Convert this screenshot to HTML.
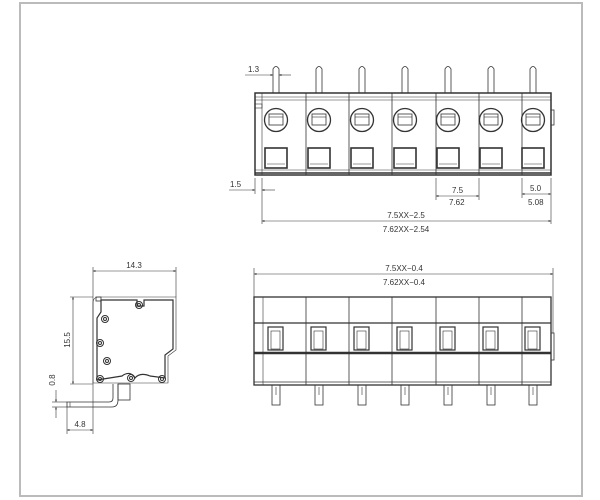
<!DOCTYPE html>
<html><head><meta charset="utf-8"><style>
html,body{margin:0;padding:0;background:#fff;width:600px;height:500px;overflow:hidden}
svg{display:block}
text{font-family:"Liberation Sans",sans-serif;font-size:8px;fill:#333}
</style></head><body>
<svg width="600" height="500" viewBox="0 0 600 500" xmlns="http://www.w3.org/2000/svg">
<defs>
<marker id="a" viewBox="0 0 10 10" refX="10" refY="5" markerWidth="5" markerHeight="4" orient="auto-start-reverse"><path d="M0,1 L10,5 L0,9z" fill="#333"/></marker>
</defs>
<rect x="20" y="3" width="562" height="493" fill="none" stroke="#bbb" stroke-width="2"/>
<g stroke="#333" fill="none" stroke-width="1">
<!-- TOP VIEW -->
<rect x="255" y="93" width="296" height="82" stroke-width="1.5"/>
<line x1="255" y1="97" x2="551" y2="97" stroke-width="0.6"/>
<line x1="255" y1="100" x2="551" y2="100" stroke-width="0.6"/>
<line x1="255" y1="170" x2="551" y2="170" stroke-width="0.6"/>
<line x1="255" y1="173" x2="551" y2="173" stroke-width="1.5"/>
<line x1="262" y1="93" x2="262" y2="175" stroke-width="0.6"/>
<rect x="255" y="104" width="7" height="4" stroke-width="0.6"/>
<rect x="551" y="110" width="3" height="15" stroke-width="0.8"/>
<g stroke-width="0.8">
<line x1="306" y1="93" x2="306" y2="175"/><line x1="349" y1="93" x2="349" y2="175"/>
<line x1="392" y1="93" x2="392" y2="175"/><line x1="436" y1="93" x2="436" y2="175"/>
<line x1="479" y1="93" x2="479" y2="175"/><line x1="522" y1="93" x2="522" y2="175"/>
</g>
<g id="cellT">
<path d="M273,93 V69 Q276,64 279,69 V93" stroke-width="0.8"/>
<circle cx="276" cy="120" r="11.5" stroke-width="1.3"/>
<rect x="269" y="114" width="14" height="11" stroke-width="0.8"/>
<line x1="269" y1="117" x2="283" y2="117" stroke-width="0.6"/>
<rect x="265" y="148" width="22" height="20" stroke-width="1.6"/>
<line x1="267" y1="164" x2="285" y2="164" stroke-width="0.6"/>
</g>
<use href="#cellT" x="43"/><use href="#cellT" x="86"/><use href="#cellT" x="129"/>
<use href="#cellT" x="172"/><use href="#cellT" x="215"/><use href="#cellT" x="257"/>
<!-- top dims -->
<g stroke-width="0.6">
<line x1="245" y1="75" x2="273" y2="75" marker-end="url(#a)"/>
<line x1="291" y1="75" x2="279" y2="75" marker-end="url(#a)"/>
<line x1="229" y1="190" x2="255" y2="190" marker-end="url(#a)"/>
<line x1="275" y1="190" x2="262" y2="190" marker-end="url(#a)"/>
<line x1="255" y1="178" x2="255" y2="194"/>
<line x1="262" y1="178" x2="262" y2="224"/>
<line x1="436" y1="178" x2="436" y2="200"/><line x1="479" y1="178" x2="479" y2="200"/>
<line x1="436" y1="196" x2="479" y2="196" marker-start="url(#a)" marker-end="url(#a)"/>
<line x1="522" y1="178" x2="522" y2="198"/><line x1="551" y1="178" x2="551" y2="224"/>
<line x1="522" y1="194" x2="551" y2="194" marker-start="url(#a)" marker-end="url(#a)"/>
<line x1="262" y1="221" x2="551" y2="221" marker-start="url(#a)" marker-end="url(#a)"/>
</g>
<!-- FRONT VIEW -->
<rect x="254" y="297" width="297" height="88" stroke-width="1.3"/>
<line x1="254" y1="323" x2="551" y2="323" stroke-width="1.3"/>
<line x1="254" y1="353" x2="551" y2="353" stroke-width="2.5"/>
<line x1="254" y1="382" x2="551" y2="382" stroke-width="0.8"/>
<line x1="263" y1="297" x2="263" y2="385" stroke-width="0.6"/>
<rect x="551" y="333" width="3" height="27" stroke-width="0.8"/>
<g stroke-width="0.8">
<line x1="306" y1="297" x2="306" y2="385"/><line x1="349" y1="297" x2="349" y2="385"/>
<line x1="392" y1="297" x2="392" y2="385"/><line x1="436" y1="297" x2="436" y2="385"/>
<line x1="479" y1="297" x2="479" y2="385"/><line x1="522" y1="297" x2="522" y2="385"/>
</g>
<g id="cellF">
<rect x="268" y="327" width="15" height="23" stroke-width="1.2"/>
<rect x="271" y="331" width="9" height="18" stroke-width="0.6"/>
<rect x="272" y="385" width="8" height="20" stroke-width="0.8"/>
<line x1="276" y1="387" x2="276" y2="395" stroke-width="0.6"/>
</g>
<use href="#cellF" x="43"/><use href="#cellF" x="86"/><use href="#cellF" x="129"/>
<use href="#cellF" x="172"/><use href="#cellF" x="215"/><use href="#cellF" x="257"/>
<g stroke-width="0.6">
<line x1="254" y1="268" x2="254" y2="297"/><line x1="553" y1="268" x2="553" y2="333"/>
<line x1="254" y1="274" x2="553" y2="274" marker-start="url(#a)" marker-end="url(#a)"/>
</g>
<!-- SIDE VIEW -->
<path d="M93,383 V303 Q93,297 99,297 H176 V350 L168,356 V383 Z" stroke-width="0.6"/>
<path d="M97,380 V318 L101,312 V300 H137 V306 H144 V300 H173 V349 L165,355 V378 L150,376 Q140,372 135,378 Q130,370 122,376 L97,380" stroke-width="1.2"/>
<rect x="96" y="297" width="5" height="4" stroke-width="0.8"/>
<g stroke-width="1">
<circle cx="139" cy="305" r="3.5"/><circle cx="139" cy="305" r="1.5"/>
<circle cx="105" cy="319" r="3.5"/><circle cx="105" cy="319" r="1.5"/>
<circle cx="100" cy="343" r="3.5"/><circle cx="100" cy="343" r="1.5"/>
<circle cx="107" cy="361" r="3.5"/><circle cx="107" cy="361" r="1.5"/>
<circle cx="100" cy="379" r="3.5"/><circle cx="100" cy="379" r="1.5"/>
<circle cx="131" cy="378" r="3.5"/><circle cx="131" cy="378" r="1.5"/>
<circle cx="162" cy="379" r="3.5"/><circle cx="162" cy="379" r="1.5"/>
</g>
<path d="M113,384 V398 Q113,402 109,402 H67 V407 H112 Q118,407 118,400 V384" stroke-width="0.8"/>
<rect x="118" y="384" width="12" height="16" stroke-width="0.8"/>
<line x1="70" y1="402" x2="70" y2="407" stroke-width="0.6"/>
<g stroke-width="0.6">
<line x1="93" y1="267" x2="93" y2="434"/><line x1="176" y1="267" x2="176" y2="297"/>
<line x1="93" y1="271" x2="176" y2="271" marker-start="url(#a)" marker-end="url(#a)"/>
<line x1="70" y1="297" x2="93" y2="297"/><line x1="70" y1="384" x2="93" y2="384"/>
<line x1="73" y1="297" x2="73" y2="384" marker-start="url(#a)" marker-end="url(#a)"/>
<line x1="52" y1="402" x2="67" y2="402"/><line x1="52" y1="407" x2="67" y2="407"/>
<line x1="56" y1="390" x2="56" y2="402" marker-end="url(#a)"/>
<line x1="56" y1="418" x2="56" y2="407" marker-end="url(#a)"/>
<line x1="67" y1="407" x2="67" y2="434"/>
<line x1="67" y1="430" x2="93" y2="430" marker-start="url(#a)" marker-end="url(#a)"/>
</g>
</g>
<text x="248" y="72">1.3</text>
<text x="230" y="187">1.5</text>
<text x="452" y="193">7.5</text>
<text x="449" y="205">7.62</text>
<text x="530" y="191">5.0</text>
<text x="528" y="205">5.08</text>
<text x="406" y="218" text-anchor="middle">7.5XX−2.5</text>
<text x="406" y="232" text-anchor="middle">7.62XX−2.54</text>
<text x="404" y="271" text-anchor="middle">7.5XX−0.4</text>
<text x="404" y="285" text-anchor="middle">7.62XX−0.4</text>
<text x="134" y="268" text-anchor="middle">14.3</text>
<text x="80" y="427" text-anchor="middle">4.8</text>
<text transform="translate(70,340) rotate(-90)" text-anchor="middle">15.5</text>
<text transform="translate(55,380) rotate(-90)" text-anchor="middle">0.8</text>
</svg>
</body></html>
